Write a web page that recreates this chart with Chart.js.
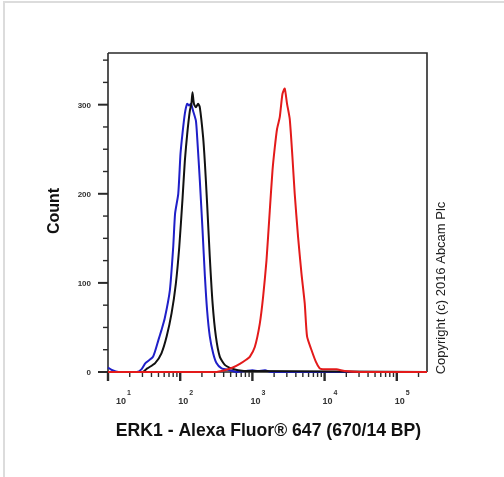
<!DOCTYPE html>
<html>
<head>
<meta charset="utf-8">
<script src="https://cdn.jsdelivr.net/npm/chart.js@4.4.1/dist/chart.umd.min.js"></script>
<style>
    html, body { margin: 0; padding: 0; background: #ffffff; }
</style>
</head>
<body>
<canvas id="histChart" width="504" height="477"></canvas>
<script>
    // Histogram data (fluorescence intensity, count)
    const blueX = [10, 11.5, 14, 25, 29, 33, 42, 50, 55, 61, 72, 80, 85, 94, 101, 108, 116, 125, 133, 141, 151, 165, 172, 187, 204, 220, 236, 257, 286, 318, 374, 487, 600, 800, 1000, 1200, 1500, 1800, 262144];
    const blueY = [5, 2, 0, 0, 3, 10, 17, 36, 47, 60, 92, 140, 178, 200, 245, 269, 290, 301, 299, 301, 293, 282, 263, 215, 159, 107, 69, 40, 21, 10, 4, 2, 0, 1, 2, 1, 2, 0, 0];

    const blackX = [10, 30, 35, 45, 55, 65, 76, 87, 97, 108, 116, 125, 136, 143, 148, 155, 165, 177, 187, 208, 220, 236, 257, 281, 312, 354, 415, 514, 634, 920, 262144];
    const blackY = [0, 0, 4, 10, 21, 40, 66, 99, 140, 196, 237, 267, 293, 301, 314, 301, 297, 301, 297, 263, 234, 189, 129, 77, 40, 17, 8, 4, 2, 1, 0];

    const redX = [10, 302, 415, 536, 670, 828, 920, 1080, 1265, 1406, 1567, 1741, 1898, 2043, 2198, 2394, 2608, 2806, 3020, 3290, 3587, 3857, 4288, 4778, 5308, 5715, 6565, 7533, 8555, 9419, 14560, 18970, 30550, 262144];
    const redY = [0, 0, 2, 5, 9, 14, 17, 28, 54, 84, 125, 181, 226, 252, 273, 286, 312, 318, 301, 284, 241, 200, 152, 111, 77, 40, 25, 12, 4, 3, 3, 1, 0, 0];

    // Axis ticks
    const xMajorTicks = [10, 100, 1000, 10000, 100000];
    const xTickExponents = ['1', '2', '3', '4', '5'];
    const yMajorTicks = [0, 100, 200, 300];
    const yTickLabels = ['0', '100', '200', '300'];
    const yMinorStep = 25;

    const xTitle = 'ERK1 - Alexa Fluor\u00AE 647 (670/14 BP)';
    const yTitle = 'Count';
    const copyrightText = 'Copyright (c) 2016 Abcam Plc';

    const FONT = '"Liberation Sans", Arial, sans-serif';

    function toPoints(xs, ys) {
        return xs.map((x, i) => ({ x: x, y: ys[i] }));
    }

    // Draws frame, ticks and labels under the histogram lines
    const axesPlugin = {
        id: 'flowAxes',
        beforeDatasetsDraw(chart) {
            const ctx = chart.ctx;
            const area = chart.chartArea;
            const xs = chart.scales.x;
            const ys = chart.scales.y;
            const y0 = ys.getPixelForValue(0);

            ctx.save();

            // light grey picture border (left and top)
            ctx.fillStyle = '#dcdcdc';
            ctx.fillRect(3, 1, 501, 2);
            ctx.fillRect(3, 1, 2, 476);

            // frame
            ctx.strokeStyle = '#2a2a2a';
            ctx.lineWidth = 1.6;
            ctx.beginPath();
            ctx.moveTo(area.left, area.top);
            ctx.lineTo(area.right, area.top);
            ctx.lineTo(area.right, y0);
            ctx.moveTo(area.left, area.top);
            ctx.lineTo(area.left, y0);
            ctx.moveTo(area.left, y0);
            ctx.lineTo(area.right, y0);
            ctx.stroke();

            // y ticks
            for (let v = 0; v <= ys.max; v += yMinorStep) {
                const py = ys.getPixelForValue(v);
                const major = yMajorTicks.includes(v);
                ctx.lineWidth = major ? 2 : 1.4;
                ctx.beginPath();
                ctx.moveTo(area.left - (major ? 10 : 5), py);
                ctx.lineTo(area.left, py);
                ctx.stroke();
            }

            // x ticks (log decades with 2..9 minors)
            for (let d = 1; d <= 5; d++) {
                for (let k = 1; k <= 9; k++) {
                    const v = k * Math.pow(10, d);
                    if (v > xs.max) continue;
                    const px = xs.getPixelForValue(v);
                    const major = k === 1;
                    ctx.lineWidth = major ? 2.4 : 1.4;
                    ctx.beginPath();
                    ctx.moveTo(px, y0);
                    ctx.lineTo(px, y0 + (major ? 9 : 5));
                    ctx.stroke();
                }
            }

            // y tick labels
            ctx.fillStyle = '#333333';
            ctx.font = 'bold 8px ' + FONT;
            ctx.textAlign = 'right';
            ctx.textBaseline = 'middle';
            yMajorTicks.forEach((v, i) => {
                ctx.fillText(yTickLabels[i], area.left - 17, ys.getPixelForValue(v) + 1);
            });

            // x tick labels: 10 with superscript exponent
            ctx.textAlign = 'left';
            ctx.textBaseline = 'alphabetic';
            xMajorTicks.forEach((v, i) => {
                const px = Math.max(xs.getPixelForValue(v) - 2, area.left + 8);
                ctx.font = 'bold 9px ' + FONT;
                ctx.fillText('10', px, y0 + 32);
                const w = ctx.measureText('10').width;
                ctx.font = 'bold 7px ' + FONT;
                ctx.fillText(xTickExponents[i], px + w + 1, y0 + 23);
            });

            // axis titles
            ctx.fillStyle = '#111111';
            ctx.font = 'bold 17.6px ' + FONT;
            ctx.textAlign = 'center';
            ctx.textBaseline = 'middle';
            ctx.fillText(xTitle, 268.5, 431);

            ctx.save();
            ctx.translate(55, 211);
            ctx.rotate(-Math.PI / 2);
            ctx.font = 'bold 16px ' + FONT;
            ctx.fillText(yTitle, 0, 0);
            ctx.restore();

            ctx.save();
            ctx.translate(441, 288);
            ctx.rotate(-Math.PI / 2);
            ctx.fillStyle = '#222222';
            ctx.font = '13px ' + FONT;
            ctx.fillText(copyrightText, 0, 0);
            ctx.restore();

            ctx.restore();
        }
    };

    const ctx = document.getElementById('histChart').getContext('2d');

    new Chart(ctx, {
        type: 'line',
        data: {
            datasets: [
                {
                    label: 'ERK1',
                    data: toPoints(redX, redY),
                    borderColor: '#e31a1a',
                    borderWidth: 2,
                    pointRadius: 0,
                    tension: 0.2,
                    clip: false
                },
                {
                    label: 'Unlabelled control',
                    data: toPoints(blackX, blackY),
                    borderColor: '#111111',
                    borderWidth: 2,
                    pointRadius: 0,
                    tension: 0.2,
                    clip: false
                },
                {
                    label: 'Isotype control',
                    data: toPoints(blueX, blueY),
                    borderColor: '#1f1fc8',
                    borderWidth: 2,
                    pointRadius: 0,
                    tension: 0.2,
                    clip: false
                }
            ]
        },
        options: {
            responsive: false,
            animation: false,
            layout: {
                padding: { left: 108, right: 77, top: 53, bottom: 105 }
            },
            plugins: {
                legend: { display: false },
                tooltip: { enabled: false }
            },
            scales: {
                x: {
                    type: 'logarithmic',
                    min: 10,
                    max: 262144,
                    display: false
                },
                y: {
                    type: 'linear',
                    min: 0,
                    max: 358,
                    display: false
                }
            }
        },
        plugins: [axesPlugin]
    });
</script>
</body>
</html>
